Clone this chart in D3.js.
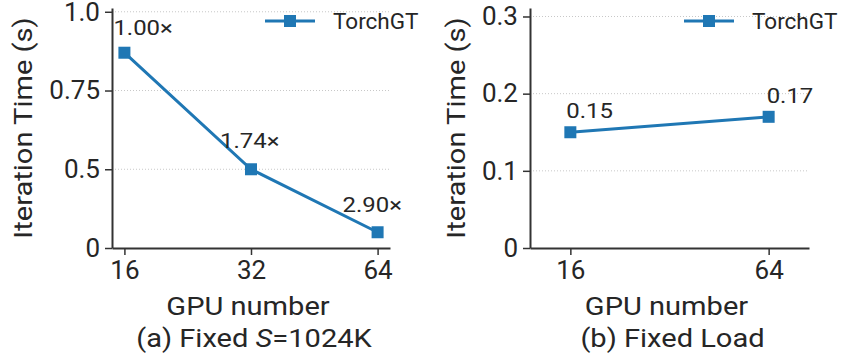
<!DOCTYPE html>
<html>
<head>
<meta charset="utf-8">
<script src="https://cdn.jsdelivr.net/npm/d3@7"></script>
<style>
  body { margin: 0; background: #fff; }
  svg { display: block; font-family: Roboto, "DejaVu Sans", sans-serif; }
</style>
</head>
<body>
<svg id="chart"></svg>
<script>
var WIDTH = 845;
var HEIGHT = 361;

//data for panel (a): fixed sequence length
var gpusA = ["16", "32", "64"];
var timeA = [0.87, 0.5, 0.30];
var speedupA = ["1.00×", "1.74×", "2.90×"];
var yTicksA = [0.25, 0.5, 0.75, 1.0];
var yTickLabelsA = ["0", "0.5", "0.75", "1.0"];

//data for panel (b): fixed load
var gpusB = ["16", "64"];
var timeB = [0.15, 0.17];
var valueLabelsB = ["0.15", "0.17"];
var yTicksB = [0, 0.1, 0.2, 0.3];
var yTickLabelsB = ["0", "0.1", "0.2", "0.3"];

var seriesName = "TorchGT";
var BLUE = "#1f77b4";
var INK = "#262626";
var STRETCH = 1.14; //labels in the original are set a bit wide

var svg = d3.select("#chart").attr("width", WIDTH).attr("height", HEIGHT);
svg.append("rect").attr("width", WIDTH).attr("height", HEIGHT).attr("fill", "#fff");

//helper: places a text with a horizontal stretch
function wideText(g, x, y, rot, size, anchor) {
  return g.append("text")
    .attr("transform", "translate(" + x + "," + y + ") rotate(" + rot + ") scale(" + STRETCH + ",1)")
    .attr("text-anchor", anchor)
    .style("font-size", size + "px")
    .style("fill", INK);
}

//draws one panel
function drawPanel(opts) {
  var x = d3.scalePoint().domain(opts.gpus).range([opts.left, opts.right]).padding(opts.xPad);
  var y = d3.scaleLinear().domain(opts.yDomain).range([248, 8]);
  var g = svg.append("g");

  //dotted gridlines
  g.selectAll("line.grid")
    .data(opts.yTicks.filter(function (d) { return d !== opts.yDomain[0]; }))
    .enter()
    .append("line")
    .attr("class", "grid")
    .attr("x1", opts.left).attr("x2", opts.right)
    .attr("y1", function (d) { return y(d); })
    .attr("y2", function (d) { return y(d); })
    .style("stroke", "#c8c8c8")
    .style("stroke-width", 1)
    .style("stroke-dasharray", "1,2");

  //y axis
  var yAxis = d3.axisLeft(y)
    .tickValues(opts.yTicks)
    .tickFormat(function (d, i) { return opts.yTickLabels[i]; })
    .tickSize(7)
    .tickPadding(5)
    .tickSizeOuter(0);
  var ya = g.append("g").attr("transform", "translate(" + opts.left + ",0)").call(yAxis);

  //x axis
  var xAxis = d3.axisBottom(x).tickSize(7).tickPadding(6).tickSizeOuter(0);
  var xa = g.append("g").attr("transform", "translate(0,248)").call(xAxis);

  [ya, xa].forEach(function (a) {
    a.select(".domain").style("stroke", "#333").style("stroke-width", 2);
    a.selectAll(".tick line").style("stroke", "#333").style("stroke-width", 1.5);
    a.selectAll(".tick text").style("font-size", "26px").style("fill", INK)
      .style("font-family", "Roboto, sans-serif");
  });

  //line + markers
  var pts = opts.gpus.map(function (d, i) { return [x(d), y(opts.values[i])]; });
  g.append("path")
    .attr("d", d3.line()(pts))
    .style("fill", "none")
    .style("stroke", BLUE)
    .style("stroke-width", 3);
  g.selectAll("rect.mark")
    .data(pts)
    .enter()
    .append("rect")
    .attr("class", "mark")
    .attr("x", function (d) { return d[0] - 6; })
    .attr("y", function (d) { return d[1] - 6; })
    .attr("width", 12).attr("height", 12)
    .style("fill", BLUE);

  //value annotations
  opts.notes.forEach(function (d, i) {
    wideText(g, pts[i][0] + opts.noteDx[i], pts[i][1] + opts.noteDy[i], 0, 21, "start").text(d);
  });

  //axis titles
  var mid = (opts.left + opts.right) / 2;
  wideText(g, opts.yLabelX, 128, -90, 25.5, "middle").text("Iteration Time (s)");
  wideText(g, mid - 3, 315, 0, 25.5, "middle").text("GPU number");
  var sub = wideText(g, mid + 3, 347, 0, 25.5, "middle");
  opts.subtitle.forEach(function (s) {
    sub.append("tspan").style("font-style", s.italic ? "italic" : "normal").text(s.t);
  });

  //legend
  var lx = opts.right - 125;
  g.append("line")
    .attr("x1", lx).attr("x2", lx + 50)
    .attr("y1", 21).attr("y2", 21)
    .style("stroke", BLUE).style("stroke-width", 3);
  g.append("rect")
    .attr("x", lx + 19).attr("y", 15).attr("width", 12).attr("height", 12)
    .style("fill", BLUE);
  g.append("text")
    .attr("x", lx + 68).attr("y", 29)
    .style("font-size", "22.5px")
    .style("fill", INK)
    .text(seriesName);
}

drawPanel({
  gpus: gpusA, values: timeA, notes: speedupA,
  noteDx: [-11, -31, -35], noteDy: [-18, -21, -20],
  yDomain: [0.25, 1.012], yTicks: yTicksA, yTickLabels: yTickLabelsA,
  left: 112, right: 390, xPad: 0.098, yLabelX: 32,
  subtitle: [{ t: "(a) Fixed " }, { t: "S", italic: true }, { t: "=1024K" }]
});

drawPanel({
  gpus: gpusB, values: timeB, notes: valueLabelsB,
  noteDx: [-4, -2], noteDy: [-14, -14],
  yDomain: [0, 0.311], yTicks: yTicksB, yTickLabels: yTickLabelsB,
  left: 530, right: 809, xPad: 0.2035, yLabelX: 465,
  subtitle: [{ t: "(b) Fixed Load" }]
});
</script>
</body>
</html>
